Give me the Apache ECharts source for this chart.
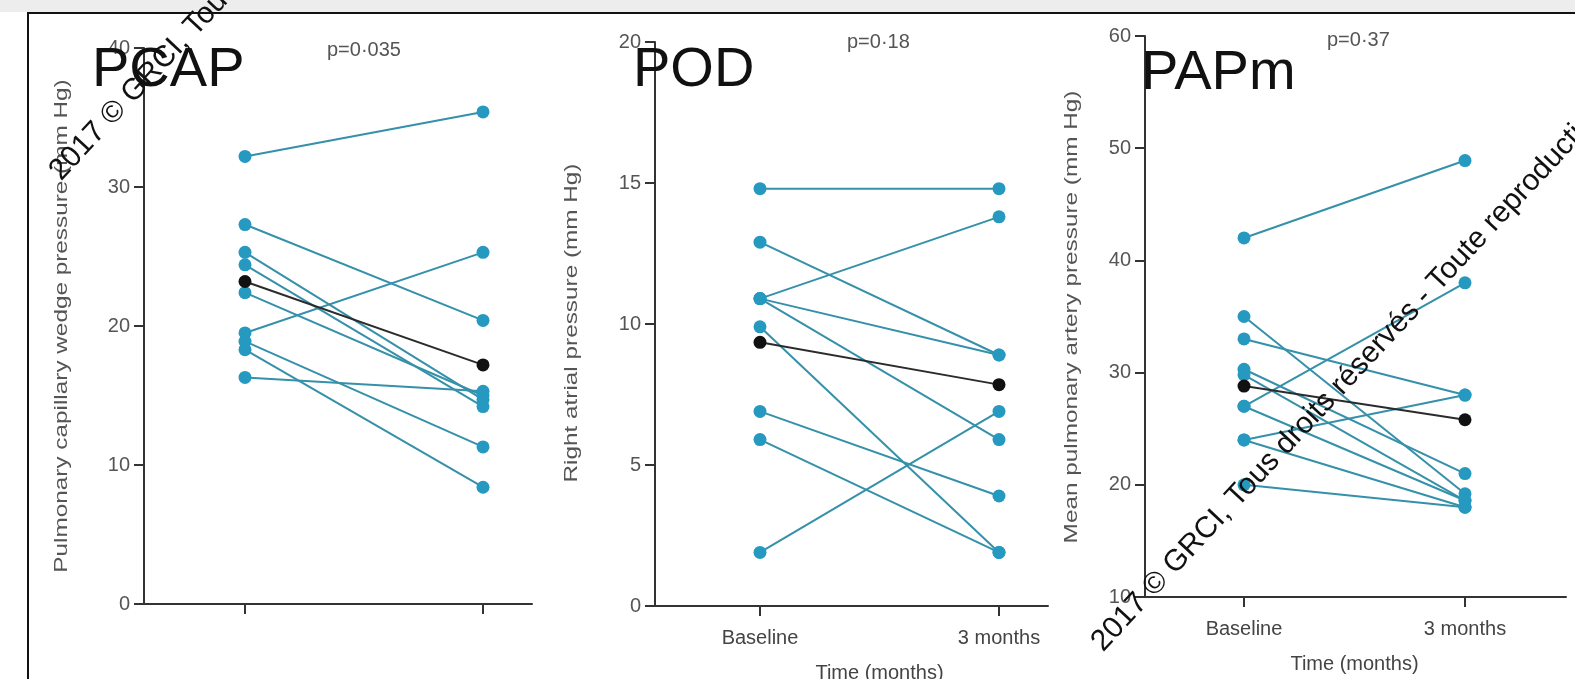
<!DOCTYPE html>
<html><head><meta charset="utf-8">
<script src="https://cdn.jsdelivr.net/npm/echarts@6/dist/echarts.min.js"></script>
<style>html,body{margin:0;padding:0;background:#fff}#c{width:1575px;height:679px}</style>
</head><body><div id="c"></div>
<script>
// ---------- data ----------
const categories = ['Baseline', '3 months'];
const panelTitles = ['PCAP', 'POD', 'PAPm'];
const pValues = ['p=0·035', 'p=0·18', 'p=0·37'];
const yAxisNames = ['Pulmonary capillary wedge pressure (mm Hg)', 'Right atrial pressure (mm Hg)', 'Mean pulmonary artery pressure (mm Hg)'];
const xAxisName = 'Time (months)';
const pcapTicks = [0, 10, 20, 30, 40];
const podTicks = [0, 5, 10, 15, 20];
const papmTicks = [10, 20, 30, 40, 50, 60];

const pcapBaseline = [32.2, 27.3, 25.3, 24.4, 22.4, 19.5, 18.9, 18.3, 16.3];
const pcap3Months  = [35.4, 20.4, 14.7, 14.2, 15.0, 25.3, 11.3, 8.4, 15.3];
const pcapMean = [23.2, 17.2];

const podBaseline = [14.8, 12.9, 10.9, 10.9, 10.9, 9.9, 6.9, 5.9, 1.9];
const pod3Months  = [14.8, 8.9, 13.8, 8.9, 5.9, 1.9, 3.9, 1.9, 6.9];
const podMean = [9.35, 7.85];

const papmBaseline = [42.0, 35.0, 33.0, 30.3, 29.8, 27.0, 27.0, 24.0, 24.0, 20.0];
const papm3Months  = [48.9, 19.2, 28.0, 21.0, 18.6, 38.0, 18.6, 28.0, 18.0, 18.0];
const papmMean = [28.8, 25.8];

const watermarkText = '2017 © GRCI, Tous droits réservés - Toute reproduction interdite';

// ---------- layout / style ----------
const FONT = "'Liberation Sans', Arial, sans-serif";
const DOT = '#2699c0', LINE = '#3590aa', MEAN_DOT = '#111', MEAN_LINE = '#2b2b2b';
const AXIS = '#333', LABEL = '#555';

const panels = [
  {ticks: pcapTicks, base: pcapBaseline, m3: pcap3Months, mean: pcapMean,
   frame: {left: 144, top: 48, width: 388, height: 556}, dataGrid: {left: 245, width: 238},
   showX: false, nameX: 62, nameY: 326, titleX: 92, titleY: 43, pX: 327, pY: 50},
  {ticks: podTicks, base: podBaseline, m3: pod3Months, mean: podMean,
   frame: {left: 655, top: 42, width: 393, height: 564}, dataGrid: {left: 760, width: 239},
   showX: true, nameX: 572, nameY: 323, titleX: 633, titleY: 43, pX: 847, pY: 42},
  {ticks: papmTicks, base: papmBaseline, m3: papm3Months, mean: papmMean,
   frame: {left: 1145, top: 36, width: 421, height: 561}, dataGrid: {left: 1244, width: 221},
   showX: true, nameX: 1072, nameY: 317, titleX: 1141, titleY: 46, pX: 1327, pY: 40}
];

const grid = [], xAxis = [], yAxis = [], series = [], graphic = [];

graphic.push({type: 'rect', shape: {x: 0, y: 0, width: 1575, height: 12}, style: {fill: '#ededed'}, z: 0});
graphic.push({type: 'line', shape: {x1: 27, y1: 13, x2: 1575, y2: 13}, style: {stroke: '#111', lineWidth: 2}, z: 1});
graphic.push({type: 'line', shape: {x1: 28, y1: 13, x2: 28, y2: 679}, style: {stroke: '#111', lineWidth: 2}, z: 1});

panels.forEach((p, k) => {
  const gF = grid.length;
  grid.push(Object.assign({containLabel: false, outerBoundsMode: 'none'}, p.frame));
  grid.push({left: p.dataGrid.left, width: p.dataGrid.width, top: p.frame.top, height: p.frame.height,
    containLabel: false, outerBoundsMode: 'none'});
  const tmin = p.ticks[0], tmax = p.ticks[p.ticks.length - 1], tint = p.ticks[1] - p.ticks[0];
  // frame axes
  xAxis.push({gridIndex: gF, type: 'value', min: 0, max: 1,
    axisLine: {show: true, lineStyle: {color: AXIS, width: 2}}, axisTick: {show: false},
    axisLabel: {show: false}, splitLine: {show: false}});
  yAxis.push({gridIndex: gF, type: 'value', min: tmin, max: tmax, interval: tint,
    axisLine: {show: true, lineStyle: {color: AXIS, width: 2}},
    axisTick: {show: true, length: 10, lineStyle: {color: AXIS, width: 2}},
    axisLabel: {show: true, fontSize: 20, color: LABEL, fontFamily: FONT, margin: 14},
    splitLine: {show: false}});
  // data axes
  const xD = xAxis.length;
  xAxis.push({gridIndex: gF + 1, type: 'category', data: categories, boundaryGap: false,
    axisLine: {show: false},
    axisTick: {show: true, length: 10, lineStyle: {color: AXIS, width: 2}},
    axisLabel: {show: p.showX, fontSize: 20, color: '#444', fontFamily: FONT, margin: 22},
    name: p.showX ? xAxisName : '', nameLocation: 'middle', nameGap: 57,
    nameTextStyle: {fontSize: 20, color: '#444', fontFamily: FONT},
    splitLine: {show: false}});
  const yD = yAxis.length;
  yAxis.push({gridIndex: gF + 1, type: 'value', min: tmin, max: tmax, interval: tint, show: false});

  p.base.forEach((b, i) => {
    series.push({type: 'line', xAxisIndex: xD, yAxisIndex: yD, data: [b, p.m3[i]],
      symbol: 'circle', symbolSize: 13, showSymbol: true, z: 2,
      itemStyle: {color: DOT}, lineStyle: {color: LINE, width: 2}, emphasis: {disabled: true}});
  });
  series.push({type: 'line', xAxisIndex: xD, yAxisIndex: yD, data: p.mean,
    symbol: 'circle', symbolSize: 13, showSymbol: true, z: 3,
    itemStyle: {color: MEAN_DOT}, lineStyle: {color: MEAN_LINE, width: 2}, emphasis: {disabled: true}});

  // y axis name (stretched like the reference)
  graphic.push({type: 'text', x: p.nameX, y: p.nameY, rotation: Math.PI / 2, scaleX: 1.28, z: 5,
    style: {text: yAxisNames[k], fontSize: 19, fontFamily: FONT, fill: LABEL, textAlign: 'center', textVerticalAlign: 'middle'}});
  // p value
  graphic.push({type: 'text', x: p.pX, y: p.pY, z: 5,
    style: {text: pValues[k], fontSize: 20, fontFamily: FONT, fill: '#555', textAlign: 'left', textVerticalAlign: 'middle'}});
  // panel title
  graphic.push({type: 'text', x: p.titleX, y: p.titleY, z: 50,
    style: {text: panelTitles[k], fontSize: 56, fontFamily: FONT, fill: '#111', textAlign: 'left', textVerticalAlign: 'top'}});
});

// watermarks
const wmAngle = 47 * Math.PI / 180;
[[66, 186], [1108, 657]].forEach(([x, y]) => {
  graphic.push({type: 'text', x: x, y: y, rotation: wmAngle, z: 60,
    style: {text: watermarkText, fontSize: 30, fontFamily: FONT, fill: '#111', textAlign: 'left', textVerticalAlign: 'bottom'}});
});

const chart = echarts.init(document.getElementById('c'), null, {renderer: 'canvas'});
chart.setOption({
  animation: false,
  backgroundColor: '#ffffff',
  grid, xAxis, yAxis, series, graphic
});
</script></body></html>
